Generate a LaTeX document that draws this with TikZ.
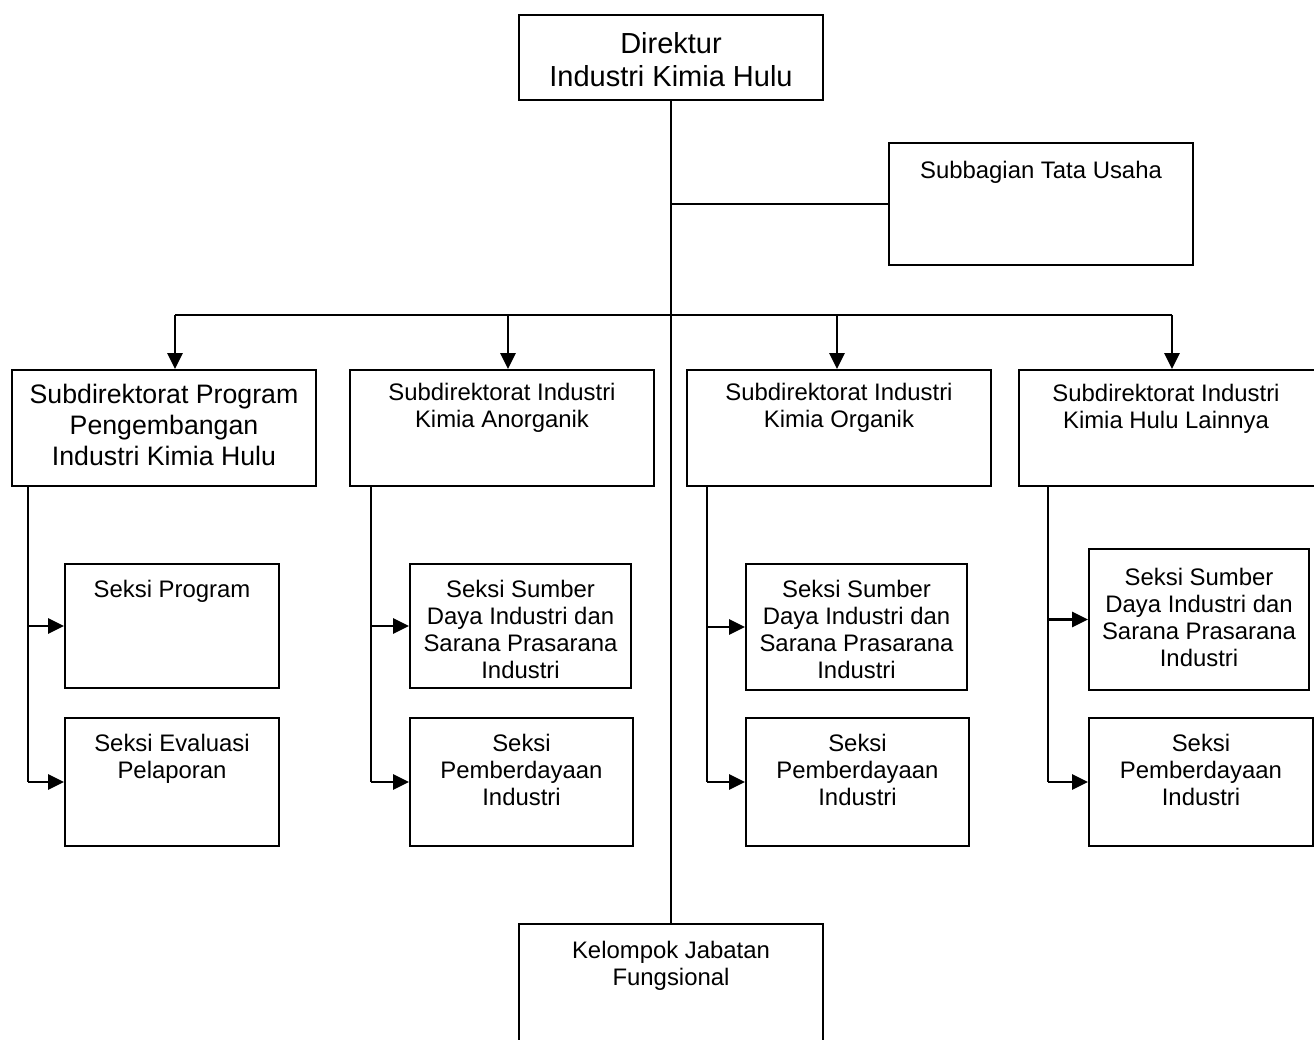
\documentclass[tikz,border=0pt]{standalone}
\usepackage{fontspec}
\setmainfont{Liberation Sans}
\usetikzlibrary{arrows.meta}

\tikzset{
  box/.style={draw, line width=1.1pt, inner sep=0pt},
  lbl/.style={anchor=north, align=center, inner sep=0pt, yshift=-0.27cm,
    font=\fontsize{13.6}{15.4}\selectfont},
  arr/.style={-{Triangle[width=0.3cm,length=0.32cm]}, line width=1.5pt},
  line/.style={line width=1.1pt}
}

\begin{document}
\begin{tikzpicture}[x=0.02cm, y=-0.02cm]
  \useasboundingbox (0,0) rectangle (1314,1040);

  % Top level
  \node[box, minimum width=6.08cm, minimum height=1.7cm] (dir) at (671,57.5) {};
  \node[align=center, inner sep=0pt, font=\fontsize{16.5}{18.8}\selectfont] (dirT) at (671,60)
    {Direktur\\Industri Kimia Hulu};

  \node[box, minimum width=6.08cm, minimum height=2.44cm] (tu) at (1041,204) {};
  \node[lbl, yshift=-0.1cm] (tuT) at (tu.north) {Subbagian Tata Usaha};

  \node[box, minimum width=6.08cm, minimum height=2.72cm] (kel) at (671,992) {};
  \node[lbl, yshift=-0.08cm] (kelT) at (kel.north) {Kelompok Jabatan\\Fungsional};

  % Subdirektorat boxes
  \node[box, minimum width=6.08cm, minimum height=2.32cm] (sA) at (164,428) {};
  \node[align=center, inner sep=0pt, font=\fontsize{15.2}{17.6}\selectfont] (sAT) at (164,425)
    {Subdirektorat Program\\Pengembangan\\Industri Kimia Hulu};
  \node[box, minimum width=6.08cm, minimum height=2.32cm] (sB) at (502,428) {};
  \node[lbl] (sBT) at (sB.north) {Subdirektorat Industri\\Kimia Anorganik};
  \node[box, minimum width=6.08cm, minimum height=2.32cm] (sC) at (839,428) {};
  \node[lbl] (sCT) at (sC.north) {Subdirektorat Industri\\Kimia Organik};
  \node[box, minimum width=6.08cm, minimum height=2.32cm] (sD) at (1171,428) {};
  \node[lbl] (sDT) at (1166,370) {Subdirektorat Industri\\Kimia Hulu Lainnya};

  % Seksi boxes
  \node[box, minimum width=4.28cm, minimum height=2.48cm] (a1) at (172,626) {};
  \node[lbl, yshift=-0.06cm] (a1T) at (a1.north) {Seksi Program};
  \node[box, minimum width=4.28cm, minimum height=2.56cm] (a2) at (172,782) {};
  \node[lbl, yshift=-0.06cm] (a2T) at (a2.north) {Seksi Evaluasi\\Pelaporan};

  \node[box, minimum width=4.42cm, minimum height=2.48cm] (b1) at (520.5,626) {};
  \node[lbl, yshift=-0.06cm] (b1T) at (b1.north) {Seksi Sumber\\Daya Industri dan\\Sarana Prasarana\\Industri};
  \node[box, minimum width=4.46cm, minimum height=2.56cm] (b2) at (521.5,782) {};
  \node[lbl, yshift=-0.06cm] (b2T) at (b2.north) {Seksi\\Pemberdayaan\\Industri};

  \node[box, minimum width=4.42cm, minimum height=2.52cm] (c1) at (856.5,627) {};
  \node[lbl, yshift=-0.06cm] (c1T) at (c1.north) {Seksi Sumber\\Daya Industri dan\\Sarana Prasarana\\Industri};
  \node[box, minimum width=4.46cm, minimum height=2.56cm] (c2) at (857.5,782) {};
  \node[lbl, yshift=-0.06cm] (c2T) at (c2.north) {Seksi\\Pemberdayaan\\Industri};

  \node[box, minimum width=4.4cm, minimum height=2.82cm] (d1) at (1199,619.5) {};
  \node[lbl, yshift=-0.12cm] (d1T) at (d1.north) {Seksi Sumber\\Daya Industri dan\\Sarana Prasarana\\Industri};
  \node[box, minimum width=4.48cm, minimum height=2.56cm] (d2) at (1201,782) {};
  \node[lbl, yshift=-0.06cm] (d2T) at (d2.north) {Seksi\\Pemberdayaan\\Industri};

  % Main trunk and staff branch
  \draw[line] (dir.south) -- (kel.north);
  \draw[line] (dir.south |- tu.west) -- (tu.west);

  % Bus to subdirektorat
  \coordinate (bA) at (175,315);
  \coordinate (bB) at (508,315);
  \coordinate (bC) at (837,315);
  \coordinate (bD) at (1172,315);
  \draw[line] (bA) -- (bD);
  \draw[arr] (bA) -- (bA |- sA.north);
  \draw[arr] (bB) -- (bB |- sB.north);
  \draw[arr] (bC) -- (bC |- sC.north);
  \draw[arr] (bD) -- (bD |- sD.north);

  % Branches to seksi
  \coordinate (kA) at (28,0);
  \coordinate (kB) at (371,0);
  \coordinate (kC) at (707,0);
  \coordinate (kD) at (1048,0);
  \draw[line] (kA |- sA.south) -- (kA |- a2.west);
  \draw[arr] (kA |- a1.west) -- (a1.west);
  \draw[arr] (kA |- a2.west) -- (a2.west);
  \draw[line] (kB |- sB.south) -- (kB |- b2.west);
  \draw[arr] (kB |- b1.west) -- (b1.west);
  \draw[arr] (kB |- b2.west) -- (b2.west);
  \draw[line] (kC |- sC.south) -- (kC |- c2.west);
  \draw[arr] (kC |- c1.west) -- (c1.west);
  \draw[arr] (kC |- c2.west) -- (c2.west);
  \draw[line] (kD |- sD.south) -- (kD |- d2.west);
  \draw[arr] (kD |- d1.west) -- (d1.west);
  \draw[arr] (kD |- d2.west) -- (d2.west);

\end{tikzpicture}
\end{document}
